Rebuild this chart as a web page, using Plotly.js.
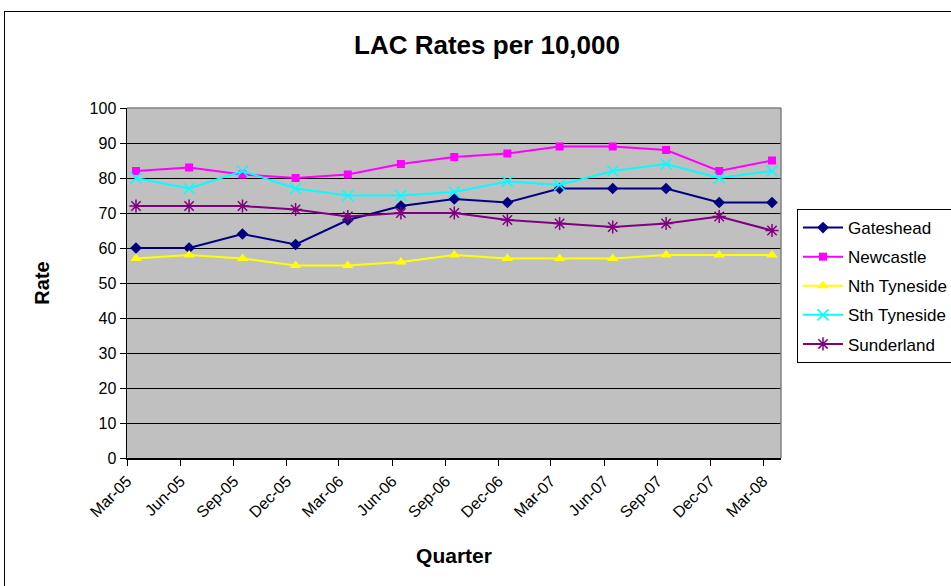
<!DOCTYPE html>
<html>
<head>
<meta charset="utf-8">
<script src="https://cdn.plot.ly/plotly-3.0.1.min.js"></script>
<style>
  html, body { margin: 0; padding: 0; background: #fff; overflow: hidden; }
  #chart { position: absolute; left: 0; top: 0; width: 951px; height: 586px; }
  #frame { position: absolute; left: 4px; top: 11px; width: 1000px; height: 700px;
           border-left: 1.5px solid #000; border-top: 1.5px solid #000; pointer-events: none; }
</style>
</head>
<body>
<div id="chart"></div>
<div id="frame"></div>
<script>
// Quarter-end months (data)
const quarters = ['2005-03','2005-06','2005-09','2005-12','2006-03','2006-06','2006-09',
                  '2006-12','2007-03','2007-06','2007-09','2007-12','2008-03'];

const gateshead   = [60, 60, 64, 61, 68, 72, 74, 73, 77, 77, 77, 73, 73];
const newcastle   = [82, 83, 81, 80, 81, 84, 86, 87, 89, 89, 88, 82, 85];
const nthTyneside = [57, 58, 57, 55, 55, 56, 58, 57, 57, 57, 58, 58, 58];
const sthTyneside = [80, 77, 82, 77, 75, 75, 76, 79, 78, 82, 84, 80, 82];
const sunderland  = [72, 72, 72, 71, 69, 70, 70, 68, 67, 66, 67, 69, 65];

const seriesNames = ['Gateshead', 'Newcastle', 'Nth Tyneside', 'Sth Tyneside', 'Sunderland'];
const seriesData  = [gateshead, newcastle, nthTyneside, sthTyneside, sunderland];
const colors      = ['#000080', '#FF00FF', '#FFFF00', '#00FFFF', '#800080'];
const symbols     = ['diamond', 'square', 'triangle-up', 'x-thin-open', 'asterisk-open'];
const sizes       = [9, 8, 10, 11, 11];

const FONT = 'Liberation Sans, Arial, sans-serif';

const traces = seriesNames.map((name, i) => ({
  type: 'scatter',
  mode: 'lines+markers',
  name: name,
  legendgroup: 'g' + i,
  x: quarters,
  y: seriesData[i],
  xperiod: 'M1',
  xperiodalignment: 'middle',
  line: { color: colors[i], width: 2 },
  marker: { symbol: symbols[i], size: sizes[i], color: colors[i],
            line: { color: colors[i], width: (i >= 3 ? 1.5 : 0) } }
}));

const layout = {
  width: 951, height: 586,
  margin: { l: 127, r: 170, t: 108, b: 128 },
  paper_bgcolor: '#ffffff',
  plot_bgcolor: '#C0C0C0',
  font: { family: FONT, color: '#000' },
  showlegend: true,
  title: {
    text: '<b>LAC Rates per 10,000</b>',
    font: { family: FONT, size: 26, color: '#000' },
    x: 487 / 951, xref: 'container', xanchor: 'center',
    y: 1 - 45 / 586, yref: 'container', yanchor: 'middle'
  },
  xaxis: {
    type: 'date',
    range: ['2005-03-01', '2008-04-01'],
    tick0: '2005-03-01',
    dtick: 'M3',
    tickformat: '%b-%y',
    tickangle: -45,
    ticks: 'outside', ticklen: 6, tickcolor: '#000', tickwidth: 1,
    showgrid: false,
    showline: true, linecolor: '#000', linewidth: 1.5,
    zeroline: false,
    tickfont: { family: FONT, size: 16, color: '#000' },
    title: { text: '<b>Quarter</b>', font: { family: FONT, size: 21, color: '#000' }, standoff: 28 },
    fixedrange: true
  },
  yaxis: {
    range: [0, 100],
    dtick: 10,
    ticks: 'outside', ticklen: 6, tickcolor: '#000', tickwidth: 1,
    showgrid: true, gridcolor: '#000', gridwidth: 1,
    showline: true, linecolor: '#000', linewidth: 1.5,
    zeroline: false,
    tickfont: { family: FONT, size: 16, color: '#000' },
    title: { text: '<b>Rate</b>', font: { family: FONT, size: 20, color: '#000' }, standoff: 34 },
    fixedrange: true
  },
  legend: {
    xref: 'container', yref: 'container',
    x: 797 / 951, xanchor: 'left',
    y: 1 - 209 / 586, yanchor: 'top',
    bgcolor: '#ffffff',
    bordercolor: '#000', borderwidth: 1,
    font: { family: FONT, size: 17, color: '#000' },
    itemwidth: 40,
    tracegroupgap: 4
  },
  shapes: [
    { type: 'line', xref: 'paper', yref: 'paper', x0: 0, x1: 1, y0: 1, y1: 1,
      line: { color: '#808080', width: 1.5 }, layer: 'above' },
    { type: 'line', xref: 'paper', yref: 'paper', x0: 1, x1: 1, y0: 0, y1: 1,
      line: { color: '#808080', width: 1.5 }, layer: 'above' }
  ]
};

Plotly.newPlot('chart', traces, layout, { displayModeBar: false, staticPlot: true });
</script>
</body>
</html>
